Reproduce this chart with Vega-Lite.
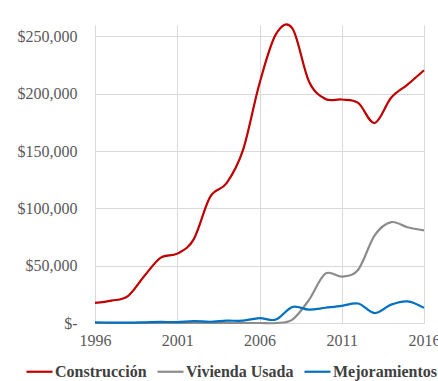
{
  "$schema": "https://vega.github.io/schema/vega-lite/v6.json",
  "width": 329,
  "height": 298,
  "autosize": "none",
  "padding": {"left": 95, "top": 25, "right": 14, "bottom": 58},
  "background": "white",
  "config": {
    "font": "Liberation Serif",
    "view": {"stroke": null},
    "axis": {"labelFont": "Liberation Serif", "labelFontSize": 16, "labelColor": "#595959", "gridColor": "#D9D9D9", "gridWidth": 1, "domain": false, "ticks": false, "title": null}
  },
  "data": {
    "values": [
      {"year": 1996, "serie": "Construcción", "valor": 17500},
      {"year": 1997, "serie": "Construcción", "valor": 19500},
      {"year": 1998, "serie": "Construcción", "valor": 23500},
      {"year": 1999, "serie": "Construcción", "valor": 41000},
      {"year": 2000, "serie": "Construcción", "valor": 57000},
      {"year": 2001, "serie": "Construcción", "valor": 60500},
      {"year": 2002, "serie": "Construcción", "valor": 73000},
      {"year": 2003, "serie": "Construcción", "valor": 110000},
      {"year": 2004, "serie": "Construcción", "valor": 122000},
      {"year": 2005, "serie": "Construcción", "valor": 151000},
      {"year": 2006, "serie": "Construcción", "valor": 209000},
      {"year": 2007, "serie": "Construcción", "valor": 252000},
      {"year": 2008, "serie": "Construcción", "valor": 257000},
      {"year": 2009, "serie": "Construcción", "valor": 211000},
      {"year": 2010, "serie": "Construcción", "valor": 195500},
      {"year": 2011, "serie": "Construcción", "valor": 195000},
      {"year": 2012, "serie": "Construcción", "valor": 192000},
      {"year": 2013, "serie": "Construcción", "valor": 174500},
      {"year": 2014, "serie": "Construcción", "valor": 196500},
      {"year": 2015, "serie": "Construcción", "valor": 208000},
      {"year": 2016, "serie": "Construcción", "valor": 220500},
      {"year": 1996, "serie": "Vivienda Usada", "valor": 0},
      {"year": 1997, "serie": "Vivienda Usada", "valor": 0},
      {"year": 1998, "serie": "Vivienda Usada", "valor": 0},
      {"year": 1999, "serie": "Vivienda Usada", "valor": 0},
      {"year": 2000, "serie": "Vivienda Usada", "valor": 0},
      {"year": 2001, "serie": "Vivienda Usada", "valor": 0},
      {"year": 2002, "serie": "Vivienda Usada", "valor": 0},
      {"year": 2003, "serie": "Vivienda Usada", "valor": 0},
      {"year": 2004, "serie": "Vivienda Usada", "valor": 0},
      {"year": 2005, "serie": "Vivienda Usada", "valor": 0},
      {"year": 2006, "serie": "Vivienda Usada", "valor": 0},
      {"year": 2007, "serie": "Vivienda Usada", "valor": 0},
      {"year": 2008, "serie": "Vivienda Usada", "valor": 3000},
      {"year": 2009, "serie": "Vivienda Usada", "valor": 20000},
      {"year": 2010, "serie": "Vivienda Usada", "valor": 43000},
      {"year": 2011, "serie": "Vivienda Usada", "valor": 40500},
      {"year": 2012, "serie": "Vivienda Usada", "valor": 46500},
      {"year": 2013, "serie": "Vivienda Usada", "valor": 76500},
      {"year": 2014, "serie": "Vivienda Usada", "valor": 88000},
      {"year": 2015, "serie": "Vivienda Usada", "valor": 83500},
      {"year": 2016, "serie": "Vivienda Usada", "valor": 80800},
      {"year": 1996, "serie": "Mejoramientos", "valor": 500},
      {"year": 1997, "serie": "Mejoramientos", "valor": 400},
      {"year": 1998, "serie": "Mejoramientos", "valor": 300},
      {"year": 1999, "serie": "Mejoramientos", "valor": 600},
      {"year": 2000, "serie": "Mejoramientos", "valor": 1000},
      {"year": 2001, "serie": "Mejoramientos", "valor": 800},
      {"year": 2002, "serie": "Mejoramientos", "valor": 1700},
      {"year": 2003, "serie": "Mejoramientos", "valor": 1100},
      {"year": 2004, "serie": "Mejoramientos", "valor": 2000},
      {"year": 2005, "serie": "Mejoramientos", "valor": 2000},
      {"year": 2006, "serie": "Mejoramientos", "valor": 4300},
      {"year": 2007, "serie": "Mejoramientos", "valor": 3000},
      {"year": 2008, "serie": "Mejoramientos", "valor": 14000},
      {"year": 2009, "serie": "Mejoramientos", "valor": 11600},
      {"year": 2010, "serie": "Mejoramientos", "valor": 13300},
      {"year": 2011, "serie": "Mejoramientos", "valor": 15000},
      {"year": 2012, "serie": "Mejoramientos", "valor": 17000},
      {"year": 2013, "serie": "Mejoramientos", "valor": 8700},
      {"year": 2014, "serie": "Mejoramientos", "valor": 16000},
      {"year": 2015, "serie": "Mejoramientos", "valor": 18800},
      {"year": 2016, "serie": "Mejoramientos", "valor": 13200}
    ]
  },
  "mark": {"type": "line", "interpolate": "cardinal", "strokeWidth": 2.2},
  "encoding": {
    "x": {
      "field": "year", "type": "quantitative",
      "scale": {"domain": [1996, 2016], "nice": false, "zero": false},
      "axis": {"values": [1996, 2001, 2006, 2011, 2016], "format": "d", "labelPadding": 9, "labelFlush": false}
    },
    "y": {
      "field": "valor", "type": "quantitative",
      "scale": {"domain": [0, 260000], "nice": false},
      "axis": {"values": [0, 50000, 100000, 150000, 200000, 250000], "labelPadding": 18,
        "labelExpr": "datum.value == 0 ? '$-\u00a0\u00a0\u00a0' : '$' + format(datum.value, ',')"}
    },
    "color": {
      "field": "serie", "type": "nominal",
      "scale": {"domain": ["Construcción", "Vivienda Usada", "Mejoramientos"], "range": ["#C00000", "#8C8C8C", "#0070C0"]},
      "legend": {
        "title": null, "orient": "none", "direction": "horizontal",
        "legendX": -70, "legendY": 332,
        "symbolType": "stroke", "symbolSize": 676, "symbolStrokeWidth": 2.2,
        "labelFont": "Liberation Serif", "labelFontSize": 16, "labelFontWeight": "bold", "labelColor": "#404040",
        "labelOffset": 1, "columnPadding": 6, "labelLimit": 200
      }
    }
  }
}
